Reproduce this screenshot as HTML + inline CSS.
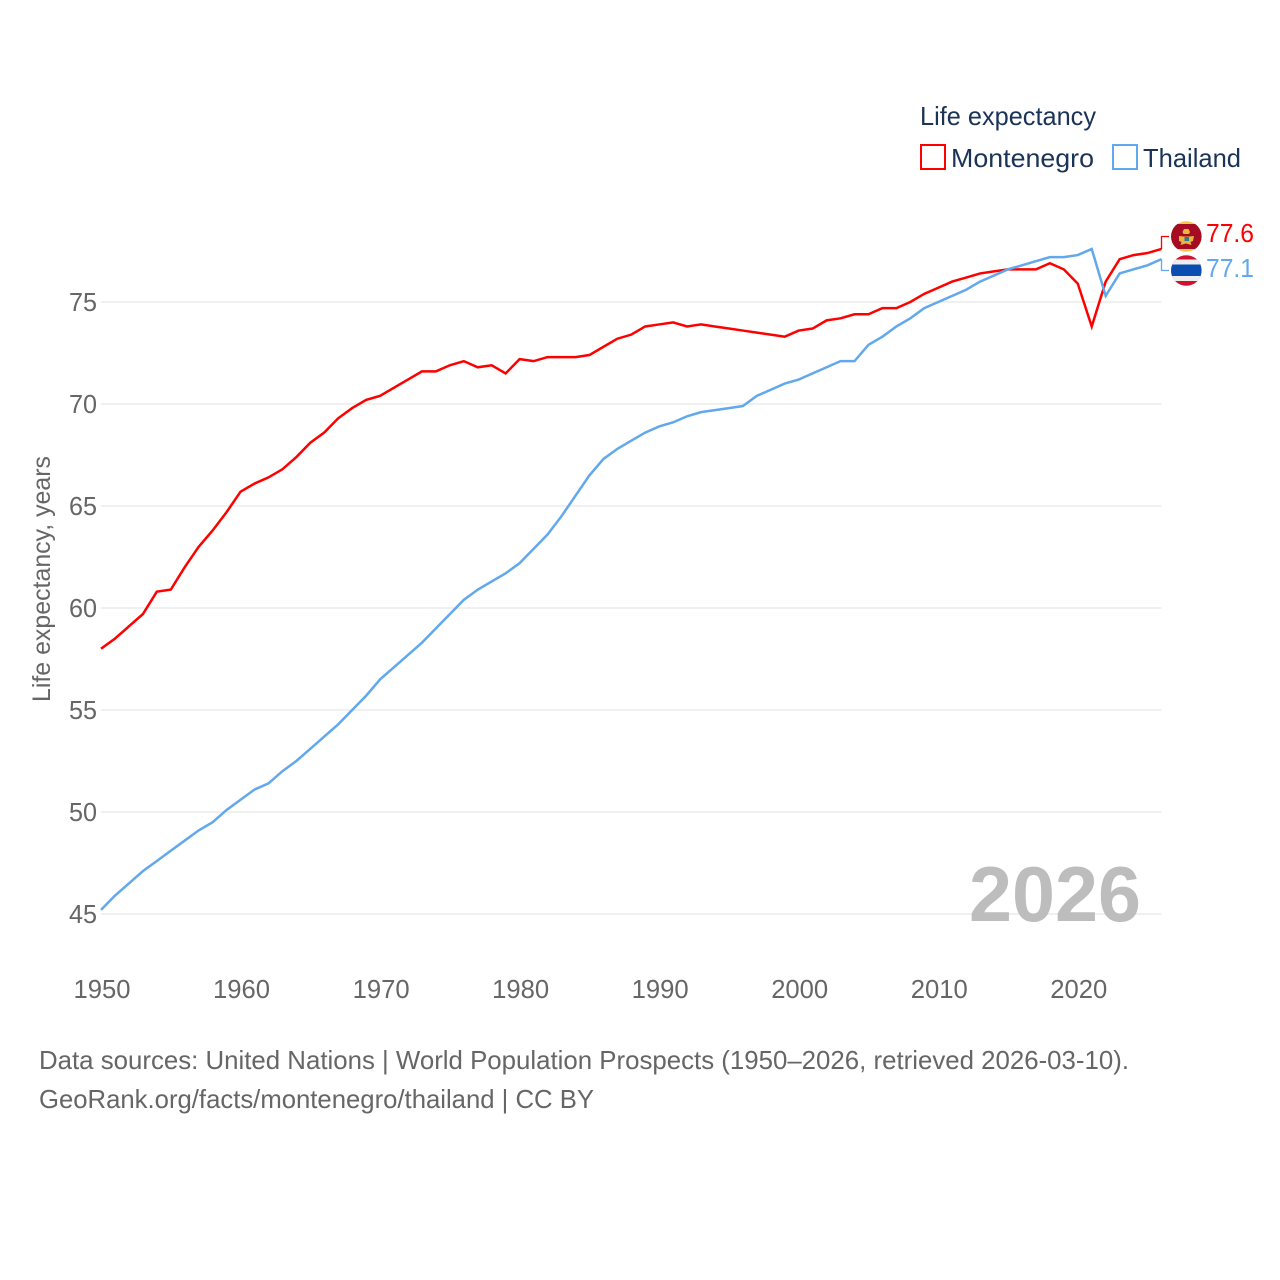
<!DOCTYPE html>
<html lang="en">
<head>
<meta charset="utf-8">
<title>Life expectancy: Montenegro and Thailand</title>
<style>
html,body{margin:0;padding:0;background:#fff;width:1280px;height:1280px;overflow:hidden}
svg{display:block}
text{font-family:"Liberation Sans",sans-serif}
</style>
</head>
<body>
<svg id="chart" width="1280" height="1280" viewBox="0 0 1280 1280" xmlns="http://www.w3.org/2000/svg">
  <defs>
    <clipPath id="clip-me"><circle cx="1186.300" cy="236.500" r="15.300"/></clipPath>
    <clipPath id="clip-th"><circle cx="1186.300" cy="270.500" r="15.300"/></clipPath>
  </defs>
  <g id="grid"></g>
  <g id="yticks"></g>
  <g id="xticks"></g>
  <text transform="translate(50,579) rotate(-90)" text-anchor="middle" font-size="25" fill="#666" textLength="246" lengthAdjust="spacingAndGlyphs">Life expectancy, years</text>
  <text x="969" y="921" font-size="78" font-weight="bold" fill="#bdbdbd" textLength="172" lengthAdjust="spacingAndGlyphs">2026</text>
  <g id="series"></g>

  <g>
    <text x="920" y="125" font-size="26" fill="#1a3357" textLength="176" lengthAdjust="spacingAndGlyphs">Life expectancy</text>
    <rect x="921" y="145" width="24" height="24" fill="#fff" stroke="#ff0000" stroke-width="2"/>
    <text x="951" y="167" font-size="26" fill="#1a3357" textLength="143" lengthAdjust="spacingAndGlyphs">Montenegro</text>
    <rect x="1113" y="145" width="24" height="24" fill="#fff" stroke="#62a8ec" stroke-width="2"/>
    <text x="1143" y="167" font-size="26" fill="#1a3357" textLength="98" lengthAdjust="spacingAndGlyphs">Thailand</text>
  </g>

  <g clip-path="url(#clip-me)">
    <rect x="1171" y="221" width="31" height="31" fill="#f6c64f"/>
    <rect x="1171" y="224" width="31" height="25" fill="#a50b22"/>
    <path d="M1184 229h4.500l1.500 3-1 2h-5.500l-1-2z" fill="#e8b63c"/>
    <path d="M1179 236l5 .5h5l5-.5-1 5-2.500 1 1 3-5.500-1.500-5.500 1.500 1-3-2.500-1z" fill="#e8b63c"/>
    <rect x="1184.500" y="237" width="4.500" height="4" fill="#2f7a8f"/>
  </g>
  <g clip-path="url(#clip-th)">
    <rect x="1171" y="255" width="31" height="31" fill="#d2102f"/>
    <rect x="1171" y="259.500" width="31" height="21.500" fill="#eeeeee"/>
    <rect x="1171" y="264.500" width="31" height="11.500" fill="#0a4fb0"/>
  </g>
  <g id="endlabels"></g>

  <g>
    <text x="39" y="1069" font-size="26" fill="#666" textLength="1090" lengthAdjust="spacingAndGlyphs">Data sources: United Nations | World Population Prospects (1950–2026, retrieved 2026-03-10).</text>
    <text x="39" y="1108" font-size="26" fill="#666" textLength="555" lengthAdjust="spacingAndGlyphs">GeoRank.org/facts/montenegro/thailand | CC BY</text>
  </g>
</svg>
<script>
const years = [1950,1951,1952,1953,1954,1955,1956,1957,1958,1959,1960,1961,1962,1963,1964,1965,1966,1967,1968,1969,1970,1971,1972,1973,1974,1975,1976,1977,1978,1979,1980,1981,1982,1983,1984,1985,1986,1987,1988,1989,1990,1991,1992,1993,1994,1995,1996,1997,1998,1999,2000,2001,2002,2003,2004,2005,2006,2007,2008,2009,2010,2011,2012,2013,2014,2015,2016,2017,2018,2019,2020,2021,2022,2023,2024,2025,2026];
const montenegro = [58.0,58.5,59.1,59.7,60.8,60.9,62.0,63.0,63.8,64.7,65.7,66.1,66.4,66.8,67.4,68.1,68.6,69.3,69.8,70.2,70.4,70.8,71.2,71.6,71.6,71.9,72.1,71.8,71.9,71.5,72.2,72.1,72.3,72.3,72.3,72.4,72.8,73.2,73.4,73.8,73.9,74.0,73.8,73.9,73.8,73.7,73.6,73.5,73.4,73.3,73.6,73.7,74.1,74.2,74.4,74.4,74.7,74.7,75.0,75.4,75.7,76.0,76.2,76.4,76.5,76.6,76.6,76.6,76.9,76.6,75.9,73.8,76.0,77.1,77.3,77.4,77.6];
const thailand = [45.2,45.9,46.5,47.1,47.6,48.1,48.6,49.1,49.5,50.1,50.6,51.1,51.4,52.0,52.5,53.1,53.7,54.3,55.0,55.7,56.5,57.1,57.7,58.3,59.0,59.7,60.4,60.9,61.3,61.7,62.2,62.9,63.6,64.5,65.5,66.5,67.3,67.8,68.2,68.6,68.9,69.1,69.4,69.6,69.7,69.8,69.9,70.4,70.7,71.0,71.2,71.5,71.8,72.1,72.1,72.9,73.3,73.8,74.2,74.7,75.0,75.3,75.6,76.0,76.3,76.6,76.8,77.0,77.2,77.2,77.3,77.6,75.3,76.4,76.6,76.8,77.1];
const yTicks = [45,50,55,60,65,70,75];
const xTicks = [1950,1960,1970,1980,1990,2000,2010,2020];

const SVGNS = 'http://www.w3.org/2000/svg';
const xScale = v => 101 + (v - 1950) * (1060.5 / 76);
const yScale = v => 914 - (v - 45) * 20.4;

function make(tag, parent, attrs) {
  const el = document.createElementNS(SVGNS, tag);
  Object.keys(attrs).forEach(k => el.setAttribute(k, attrs[k]));
  parent.appendChild(el);
  return el;
}

const grid = document.getElementById('grid');
const yG = document.getElementById('yticks');
const xG = document.getElementById('xticks');
const seriesG = document.getElementById('series');
const labelsG = document.getElementById('endlabels');

yTicks.forEach(t => {
  const ln = make('line', grid, {x1: 101, x2: 1161.500, y1: yScale(t), y2: yScale(t), stroke: '#ebebeb', 'stroke-width': 1.500});
  
  
  const tx = make('text', yG, {x: 97, y: yScale(t) + 9, 'text-anchor': 'end', 'font-size': 26, fill: '#666', textLength: 28, lengthAdjust: 'spacingAndGlyphs'});
  
  
  tx.textContent = t;
});

xTicks.forEach(t => {
  const tx = make('text', xG, {x: xScale(t) + 1, y: 998, 'text-anchor': 'middle', 'font-size': 26, fill: '#666', textLength: 57, lengthAdjust: 'spacingAndGlyphs'});
  
  
  tx.textContent = t;
});

function points(values) {
  return values.map((v, i) => xScale(years[i]).toFixed(2) + ',' + yScale(v).toFixed(2)).join(' ');
}

const redLine = make('polyline', seriesG, {points: points(montenegro), fill: 'none', stroke: '#ff0000', 'stroke-width': 2.500, 'stroke-linejoin': 'miter'});


const blueLine = make('polyline', seriesG, {points: points(thailand), fill: 'none', stroke: '#62a8ec', 'stroke-width': 2.500, 'stroke-linejoin': 'miter'});



const lastM = montenegro[montenegro.length - 1];
const lastT = thailand[thailand.length - 1];
const endX = xScale(years[years.length - 1]);

const connM = make('polyline', labelsG, {points: endX + ',' + yScale(lastM) + ' ' + endX + ',236.500 1169,236.500', fill: 'none', stroke: '#ff0000', 'stroke-width': 1.300});


const connT = make('polyline', labelsG, {points: endX + ',' + yScale(lastT) + ' ' + endX + ',270.500 1169,270.500', fill: 'none', stroke: '#62a8ec', 'stroke-width': 1.300});



const valM = make('text', labelsG, {x: 1206, y: 242, 'font-size': 26, fill: '#ff0000', textLength: 48, lengthAdjust: 'spacingAndGlyphs'});


valM.textContent = lastM.toFixed(1);
const valT = make('text', labelsG, {x: 1206, y: 277, 'font-size': 26, fill: '#62a8ec', textLength: 48, lengthAdjust: 'spacingAndGlyphs'});


valT.textContent = lastT.toFixed(1);
</script>
</body>
</html>
